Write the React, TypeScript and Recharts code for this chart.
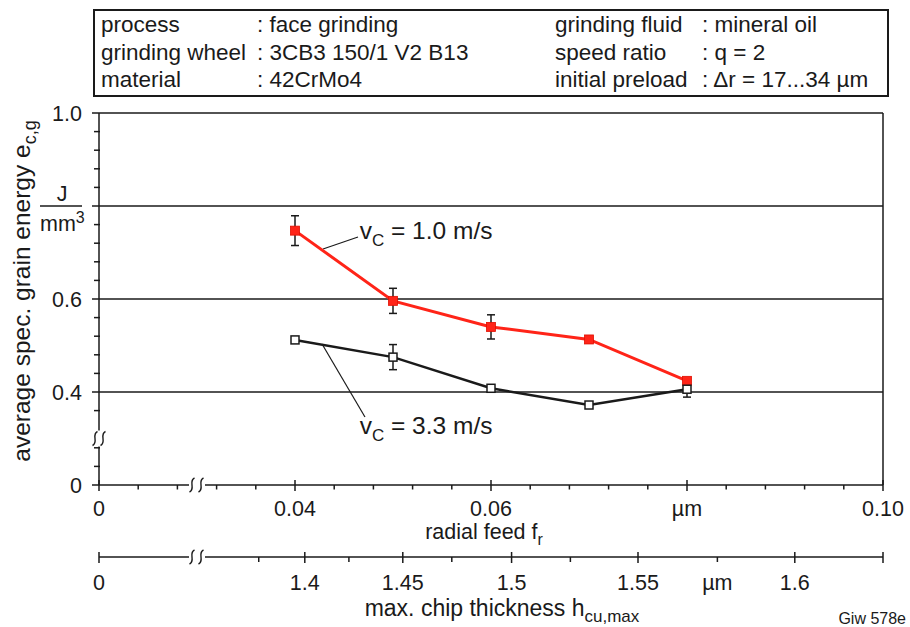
import React from 'react';
import { ComposedChart, Line, XAxis, YAxis, ErrorBar, ReferenceLine, ReferenceDot } from 'recharts';

const FONT = '"Liberation Sans", Arial, Helvetica, sans-serif';
const INK = '#1a1a1a';
const RED = '#ff2418';
const FS = 21.5;

// ---------- data ----------
const radialFeed = [0.04, 0.05, 0.06, 0.07, 0.08];
const energyVc10 = [0.747, 0.596, 0.54, 0.513, 0.424];
const errorVc10 = [0.032, 0.027, 0.026, 0.007, 0];
const energyVc33 = [0.512, 0.475, 0.408, 0.372, 0.406];
const errorVc33 = [0, 0.027, 0.006, 0, 0.017];

// radial feed axis (axis starts at broken "0")
const feedDomain = [0.02, 0.1];
const feedTicks = [0.02, 0.024, 0.028, 0.03, 0.032, 0.036, 0.04, 0.044, 0.048, 0.052, 0.056, 0.06, 0.064, 0.068, 0.072, 0.076, 0.08, 0.084, 0.088, 0.092, 0.096, 0.1];
const feedMajorTicks = [0.02, 0.04, 0.06, 0.08, 0.1];
const feedMajorLabels = ['0', '0.04', '0.06', 'µm', '0.10'];
const feedBreak = 0.03;

// chip thickness axis: label positions expressed on the radial-feed scale
const chipTickPositions = [0.02, 0.03, 0.0363, 0.041, 0.0455, 0.051, 0.056, 0.0621, 0.0681, 0.075, 0.0831, 0.091, 0.1];
const chipTickLabels = ['0', '', '', '1.4', '', '1.45', '', '1.5', '', '1.55', 'µm', '1.6', ''];
const chipTickMajor = [true, false, false, true, false, true, false, true, false, true, false, true, true];

// energy axis (axis starts at broken "0")
const energyDomain = [0.2, 1.0];
const energyTicks = [0.2, 0.24, 0.28, 0.3, 0.36, 0.4, 0.44, 0.48, 0.52, 0.56, 0.6, 0.64, 0.68, 0.72, 0.76, 0.8, 0.84, 0.88, 0.92, 0.96, 1.0];
const energyMajorTicks = [0.2, 0.4, 0.6, 0.8, 1.0];
const energyMajorLabels = ['0', '0.4', '0.6', '', '1.0'];
const energyBreak = 0.3;
const energyGridLines = [0.4, 0.6, 0.8, 1.0];

// header table
const headerKeysLeft = ['process', 'grinding wheel', 'material'];
const headerValuesLeft = [': face grinding', ': 3CB3 150/1 V2 B13', ': 42CrMo4'];
const headerKeysRight = ['grinding fluid', 'speed ratio', 'initial preload'];
const headerValuesRight = [': mineral oil', ': q = 2', ': Δr = 17...34 µm'];

// annotations (data coordinates)
const labelVc10 = { x: 0.0466, y: 0.729, text: ' = 1.0 m/s' };
const leaderVc10 = [{ x: 0.04286, y: 0.7075 }, { x: 0.04643, y: 0.7333 }];
const labelVc33 = { x: 0.0466, y: 0.31, text: ' = 3.3 m/s' };
const leaderVc33 = [{ x: 0.04276, y: 0.5032 }, { x: 0.04714, y: 0.3462 }];

const chartData = radialFeed.map((f, i) => ({
  f,
  vc10: energyVc10[i],
  vc10Err: errorVc10[i],
  vc33: energyVc33[i],
  vc33Err: errorVc33[i],
}));

const near = (a: number, b: number) => Math.abs(a - b) < 1e-6;

const sPath = (cx: number, cy: number) =>
  `M ${cx + 2.5} ${cy - 7} C ${cx - 4} ${cy - 4}, ${cx + 4} ${cy + 4}, ${cx - 2.5} ${cy + 7}`;

const BreakH = ({ x, y }: { x: number; y: number }) => (
  <g>
    <rect x={x - 8} y={y - 2} width={16} height={4} fill="#fff" />
    <path d={sPath(x - 5, y)} fill="none" stroke={INK} strokeWidth={1.4} />
    <path d={sPath(x + 4, y)} fill="none" stroke={INK} strokeWidth={1.4} />
  </g>
);

const BreakV = ({ x, y }: { x: number; y: number }) => (
  <g>
    <rect x={x - 2} y={y - 8} width={4} height={16} fill="#fff" />
    <path d={sPath(x - 4, y)} fill="none" stroke={INK} strokeWidth={1.4} />
    <path d={sPath(x + 4, y)} fill="none" stroke={INK} strokeWidth={1.4} />
  </g>
);

const textStyle = { fontFamily: FONT, fontSize: FS, fill: INK };

const FeedTick = (props: any) => {
  const { x, y, payload } = props;
  const v = payload.value;
  if (near(v, feedBreak)) return <BreakH x={x} y={y} />;
  const i = feedMajorTicks.findIndex((m) => near(m, v));
  if (i >= 0) {
    return (
      <g>
        <line x1={x} x2={x} y1={y - 5} y2={y + 6} stroke={INK} strokeWidth={1.5} />
        <text x={x} y={y + 31} textAnchor="middle" style={textStyle}>
          {feedMajorLabels[i]}
        </text>
      </g>
    );
  }
  return <line x1={x} x2={x} y1={y} y2={y + 4.5} stroke={INK} strokeWidth={1.5} />;
};

const ChipTick = (props: any) => {
  const { x, y, payload } = props;
  const i = chipTickPositions.findIndex((m) => near(m, payload.value));
  if (i < 0) return <g />;
  if (near(payload.value, feedBreak)) return <BreakH x={x} y={y} />;
  return (
    <g>
      {chipTickMajor[i] ? (
        <line x1={x} x2={x} y1={y - 5} y2={y + 6} stroke={INK} strokeWidth={1.5} />
      ) : (
        <line x1={x} x2={x} y1={y} y2={y + 5} stroke={INK} strokeWidth={1.5} />
      )}
      {chipTickLabels[i] ? (
        <text x={x} y={y + 33} textAnchor="middle" style={textStyle}>
          {chipTickLabels[i]}
        </text>
      ) : null}
    </g>
  );
};

const EnergyTick = (props: any) => {
  const { x, y, payload } = props;
  const v = payload.value;
  if (near(v, energyBreak)) return <BreakV x={x} y={y} />;
  const i = energyMajorTicks.findIndex((m) => near(m, v));
  if (i >= 0) {
    return (
      <g>
        <line x1={x - 7} x2={x} y1={y} y2={y} stroke={INK} strokeWidth={1.5} />
        {energyMajorLabels[i] ? (
          <text x={x - 17} y={y + 7.5} textAnchor="end" style={textStyle}>
            {energyMajorLabels[i]}
          </text>
        ) : null}
        {near(v, 0.8) ? (
          <g>
            <text x={x - 37} y={y - 5} textAnchor="middle" style={textStyle}>J</text>
            <line x1={x - 59} x2={x - 17} y1={y} y2={y} stroke={INK} strokeWidth={1.5} />
            <text x={x - 59} y={y + 25} style={textStyle}>
              mm<tspan dy={-8} fontSize={16}>3</tspan>
            </text>
          </g>
        ) : null}
      </g>
    );
  }
  return <line x1={x - 5} x2={x + 1} y1={y} y2={y} stroke={INK} strokeWidth={1.5} />;
};

const YAxisTitle = (props: any) => {
  const vb = props.viewBox || { x: 0, y: 113, width: 99, height: 372 };
  const cx = vb.x + 30;
  const cy = vb.y + vb.height / 2 - 8;
  return (
    <text x={cx} y={cy} textAnchor="middle" transform={`rotate(-90, ${cx}, ${cy})`} style={{ ...textStyle, fontSize: 24.5 }}>
      average spec. grain energy e<tspan dy={6} fontSize={18}>c,g</tspan>
    </text>
  );
};

const FeedTitle = (props: any) => {
  const vb = props.viewBox || { x: 99, y: 485, width: 784, height: 72 };
  return (
    <text x={vb.x + vb.width / 2 - 7} y={vb.y + 54} textAnchor="middle" style={{ ...textStyle, fontSize: 21.5 }}>
      radial feed f<tspan dy={6} fontSize={16}>r</tspan>
    </text>
  );
};

const ChipTitle = (props: any) => {
  const vb = props.viewBox || { x: 99, y: 557, width: 784, height: 70 };
  return (
    <text x={vb.x + vb.width / 2 + 11} y={vb.y + 59} textAnchor="middle" style={{ ...textStyle, fontSize: 23 }}>
      max. chip thickness h<tspan dy={6} fontSize={17}>cu,max</tspan>
    </text>
  );
};

const vcLabel = (text: string) => (props: any) => {
  const vb = props.viewBox || { x: 0, y: 0 };
  return (
    <text x={vb.x} y={vb.y} style={{ ...textStyle, fontSize: 24.5 }}>
      v<tspan dy={7} fontSize={17}>C</tspan>
      <tspan dy={-7}>{text}</tspan>
    </text>
  );
};

const RedSquare = (props: any) => {
  const { cx, cy, index } = props;
  if (cx == null || cy == null) return <g key={`r${index}`} />;
  return <rect key={`r${index}`} x={cx - 4.5} y={cy - 4.5} width={9} height={9} fill={RED} stroke="#e01000" strokeWidth={0.8} />;
};

const OpenSquare = (props: any) => {
  const { cx, cy, index } = props;
  if (cx == null || cy == null) return <g key={`b${index}`} />;
  return <rect key={`b${index}`} x={cx - 4} y={cy - 4} width={8} height={8} fill="#fff" stroke={INK} strokeWidth={1.5} />;
};

export default function App() {
  return (
    <div style={{ position: 'absolute', left: 0, top: 0, width: 910, height: 627, background: '#fff' }}>
      <ComposedChart
        width={910}
        height={627}
        data={chartData}
        margin={{ top: 113, right: 27, bottom: 0, left: 0 }}
      >
        <XAxis
          xAxisId="f"
          dataKey="f"
          type="number"
          domain={feedDomain}
          ticks={feedTicks}
          interval={0}
          allowDataOverflow
          height={72}
          tickSize={0}
          tickMargin={0}
          tickLine={false}
          axisLine={{ stroke: INK, strokeWidth: 1.5 }}
          tick={<FeedTick />}
          label={{ content: <FeedTitle /> }}
        />
        <XAxis
          xAxisId="h"
          dataKey="f"
          type="number"
          domain={feedDomain}
          ticks={chipTickPositions}
          interval={0}
          allowDataOverflow
          height={70}
          tickSize={0}
          tickMargin={0}
          tickLine={false}
          axisLine={{ stroke: INK, strokeWidth: 1.5 }}
          tick={<ChipTick />}
          label={{ content: <ChipTitle /> }}
        />
        <YAxis
          type="number"
          domain={energyDomain}
          ticks={energyTicks}
          interval={0}
          allowDataOverflow
          width={99}
          tickSize={0}
          tickMargin={0}
          tickLine={false}
          axisLine={{ stroke: INK, strokeWidth: 1.5 }}
          tick={<EnergyTick />}
          label={{ content: <YAxisTitle /> }}
        />
        {energyGridLines.map((g) => (
          <ReferenceLine key={`g${g}`} xAxisId="f" y={g} stroke={INK} strokeWidth={1.3} />
        ))}
        <ReferenceLine xAxisId="f" x={feedDomain[1]} stroke={INK} strokeWidth={1.5} />
        <ReferenceLine xAxisId="f" segment={leaderVc10} stroke={INK} strokeWidth={1.2} />
        <ReferenceLine xAxisId="f" segment={leaderVc33} stroke={INK} strokeWidth={1.2} />
        <ReferenceDot
          xAxisId="f"
          x={labelVc10.x}
          y={labelVc10.y}
          r={0}
          fill="none"
          stroke="none"
          label={{ content: vcLabel(labelVc10.text) }}
        />
        <ReferenceDot
          xAxisId="f"
          x={labelVc33.x}
          y={labelVc33.y}
          r={0}
          fill="none"
          stroke="none"
          label={{ content: vcLabel(labelVc33.text) }}
        />
        <Line
          xAxisId="f"
          dataKey="vc10"
          stroke={RED}
          strokeWidth={3}
          dot={<RedSquare />}
          activeDot={false}
          isAnimationActive={false}
        >
          <ErrorBar dataKey="vc10Err" width={4} stroke={INK} strokeWidth={1.5} direction="y" isAnimationActive={false} />
        </Line>
        <Line
          xAxisId="f"
          dataKey="vc33"
          stroke={INK}
          strokeWidth={2.5}
          dot={<OpenSquare />}
          activeDot={false}
          isAnimationActive={false}
        >
          <ErrorBar dataKey="vc33Err" width={4} stroke={INK} strokeWidth={1.5} direction="y" isAnimationActive={false} />
        </Line>
      </ComposedChart>
      <svg
        width={910}
        height={627}
        style={{ position: 'absolute', left: 0, top: 0, pointerEvents: 'none' }}
      >
        <rect x={94} y={10} width={794} height={86} fill="none" stroke={INK} strokeWidth={2} />
        {headerKeysLeft.map((t, i) => (
          <text key={`kl${i}`} x={101} y={32 + i * 27.5} style={{ ...textStyle, fontSize: 22.5 }}>{t}</text>
        ))}
        {headerValuesLeft.map((t, i) => (
          <text key={`vl${i}`} x={257} y={32 + i * 27.5} style={{ ...textStyle, fontSize: 22.5 }}>{t}</text>
        ))}
        {headerKeysRight.map((t, i) => (
          <text key={`kr${i}`} x={555} y={32 + i * 27.5} style={{ ...textStyle, fontSize: 22.5 }}>{t}</text>
        ))}
        {headerValuesRight.map((t, i) => (
          <text key={`vr${i}`} x={702} y={32 + i * 27.5} style={{ ...textStyle, fontSize: 22.5 }}>{t}</text>
        ))}
        <text x={906} y={624} textAnchor="end" style={{ ...textStyle, fontSize: 16 }}>Giw 578e</text>
      </svg>
    </div>
  );
}
